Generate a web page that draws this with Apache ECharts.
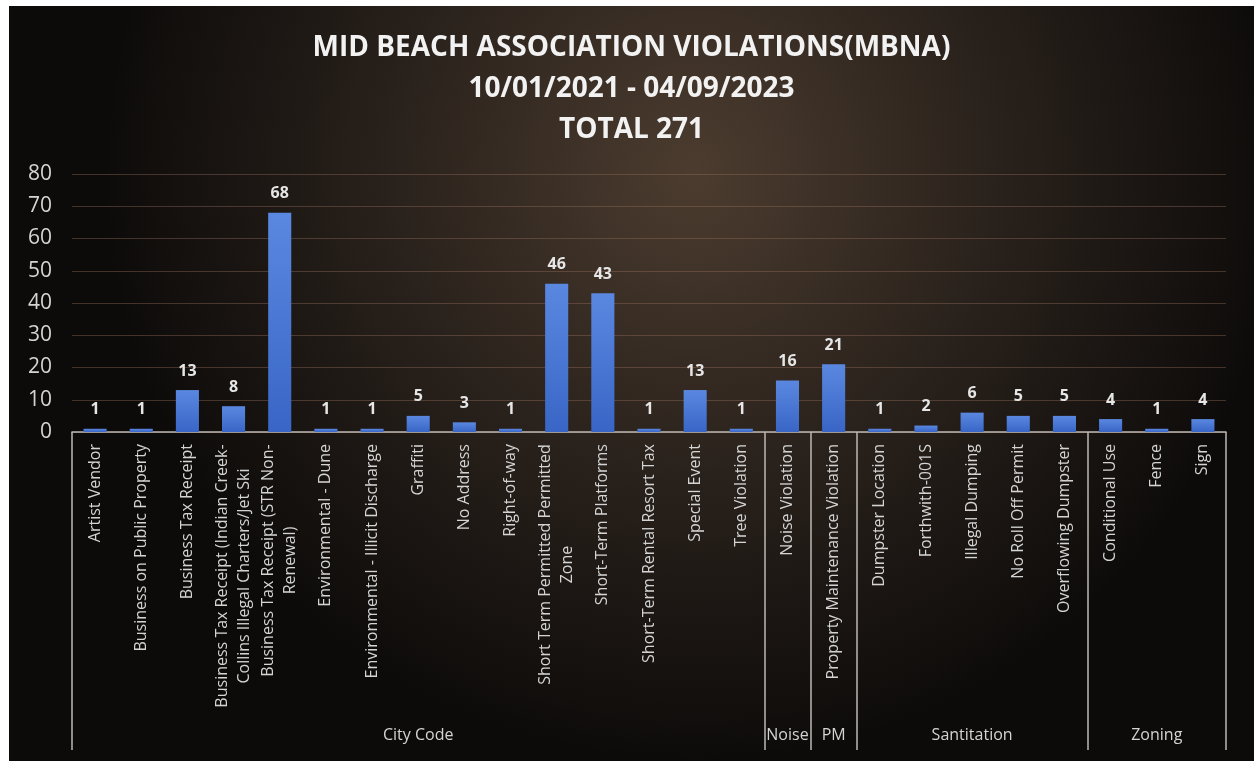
<!DOCTYPE html>
<html>
<head>
<meta charset="utf-8">
<title>Mid Beach Association Violations</title>
<script src="https://cdn.jsdelivr.net/npm/echarts@6/dist/echarts.min.js"></script>
<style>
  html, body { margin: 0; padding: 0; background: #ffffff; }
  #chart { position: absolute; left: 9px; top: 6px; width: 1245px; height: 755px; }
</style>
</head>
<body>
<div id="chart"></div>
<script>
  // violation types (bottom level of the axis)
  var categories = [
    'Artist Vendor', 'Business on Public Property', 'Business Tax Receipt',
    'Business Tax Receipt (Indian Creek-\nCollins Illegal Charters/Jet Ski',
    'Business Tax Receipt (STR Non-\nRenewal)',
    'Environmental - Dune', 'Environmental - Illicit Discharge', 'Graffiti',
    'No Address', 'Right-of-way', 'Short Term Permitted Permitted\nZone',
    'Short-Term Platforms', 'Short-Term Rental Resort Tax', 'Special Event',
    'Tree Violation', 'Noise Violation', 'Property Maintenance Violation',
    'Dumpster Location', 'Forthwith-001S', 'Illegal Dumping',
    'No Roll Off Permit', 'Overflowing Dumpster', 'Conditional Use', 'Fence', 'Sign'
  ];
  var counts = [1, 1, 13, 8, 68, 1, 1, 5, 3, 1, 46, 43, 1, 13, 1, 16, 21, 1, 2, 6, 5, 5, 4, 1, 4];

  // upper level of the axis
  var groupNames = ['City Code', 'Noise', 'PM', 'Santitation', 'Zoning'];
  var groupSizes = [15, 1, 1, 5, 3];

  var yTicks = [0, 10, 20, 30, 40, 50, 60, 70, 80];

  // group boundaries and centres, in category units
  var groupEdges = [0];
  var groupCenters = [];
  groupSizes.forEach(function (n, i) {
    groupCenters.push(groupEdges[i] + n / 2);
    groupEdges.push(groupEdges[i] + n);
  });

  var labelSize = 16;
  var ctx = document.createElement('canvas').getContext('2d');
  ctx.font = labelSize + 'px "Open Sans"';

  // wrapped labels: lines centred on the longest one
  var rich = {};
  categories.forEach(function (c, i) {
    var lines = c.split('\n');
    if (lines.length > 1) {
      var w = Math.max.apply(null, lines.map(function (l) { return ctx.measureText(l).width; }));
      rich['w' + i] = { width: Math.ceil(w), align: 'center', fontSize: labelSize, color: '#d4d4d4', lineHeight: 22 };
    }
  });

  var myChart = echarts.init(document.getElementById('chart'));
  var option = {
    backgroundColor: {
      type: 'radial', x: 0.55, y: 0.22, r: 0.78,
      colorStops: [
        { offset: 0, color: '#4c3c2f' },
        { offset: 0.5, color: '#2a221c' },
        { offset: 1, color: '#0d0b0a' }
      ]
    },
    textStyle: { fontFamily: '"Open Sans", sans-serif' },
    animation: false,
    title: {
      text: 'MID BEACH ASSOCIATION VIOLATIONS(MBNA)\n10/01/2021 - 04/09/2023\nTOTAL 271',
      left: 'center',
      top: 17,
      textStyle: { color: '#f2f2f2', fontSize: 28, fontWeight: 'bold', lineHeight: 41 }
    },
    grid: { left: 63, right: 28, top: 168, bottom: 329, containLabel: false },
    xAxis: [{
      type: 'category',
      data: categories,
      axisLine: { lineStyle: { color: '#bdb8b2', width: 1.5 } },
      axisTick: { show: false },
      axisLabel: {
        interval: 0,
        rotate: 90,
        margin: 12,
        color: '#d4d4d4',
        fontSize: labelSize,
        lineHeight: 22,
        formatter: function (v, i) {
          if (rich['w' + i]) {
            return v.split('\n').map(function (l) { return '{w' + i + '|' + l + '}'; }).join('\n');
          }
          return v;
        },
        rich: rich
      }
    }, {
      type: 'value',
      min: 0,
      max: categories.length,
      position: 'bottom',
      axisLine: { show: false },
      splitLine: { show: false },
      axisTick: {
        show: true,
        length: 318,
        customValues: groupEdges,
        lineStyle: { color: '#bdb8b2', width: 1.5 }
      },
      axisLabel: {
        show: true,
        margin: 295,
        color: '#d4d4d4',
        fontSize: 16,
        customValues: groupCenters,
        formatter: function (v) {
          return groupNames[groupCenters.indexOf(v)] || '';
        }
      }
    }],
    yAxis: {
      type: 'value',
      min: 0,
      max: yTicks[yTicks.length - 1],
      interval: yTicks[1] - yTicks[0],
      axisLine: { show: false },
      axisTick: { show: false },
      axisLabel: { color: '#d4d4d4', fontSize: 21, margin: 20 },
      splitLine: { lineStyle: { color: 'rgba(150,110,90,0.4)', width: 1 } }
    },
    series: [{
      type: 'bar',
      data: counts,
      barWidth: '50%',
      itemStyle: {
        color: {
          type: 'linear', x: 0, y: 0, x2: 0, y2: 1,
          colorStops: [{ offset: 0, color: '#5a88e0' }, { offset: 1, color: '#3966c6' }]
        }
      },
      label: {
        show: true,
        position: 'top',
        distance: 11,
        color: '#e6e6e6',
        fontSize: 16,
        fontWeight: 'bold'
      }
    }]
  };
  myChart.setOption(option);
</script>
</body>
</html>
